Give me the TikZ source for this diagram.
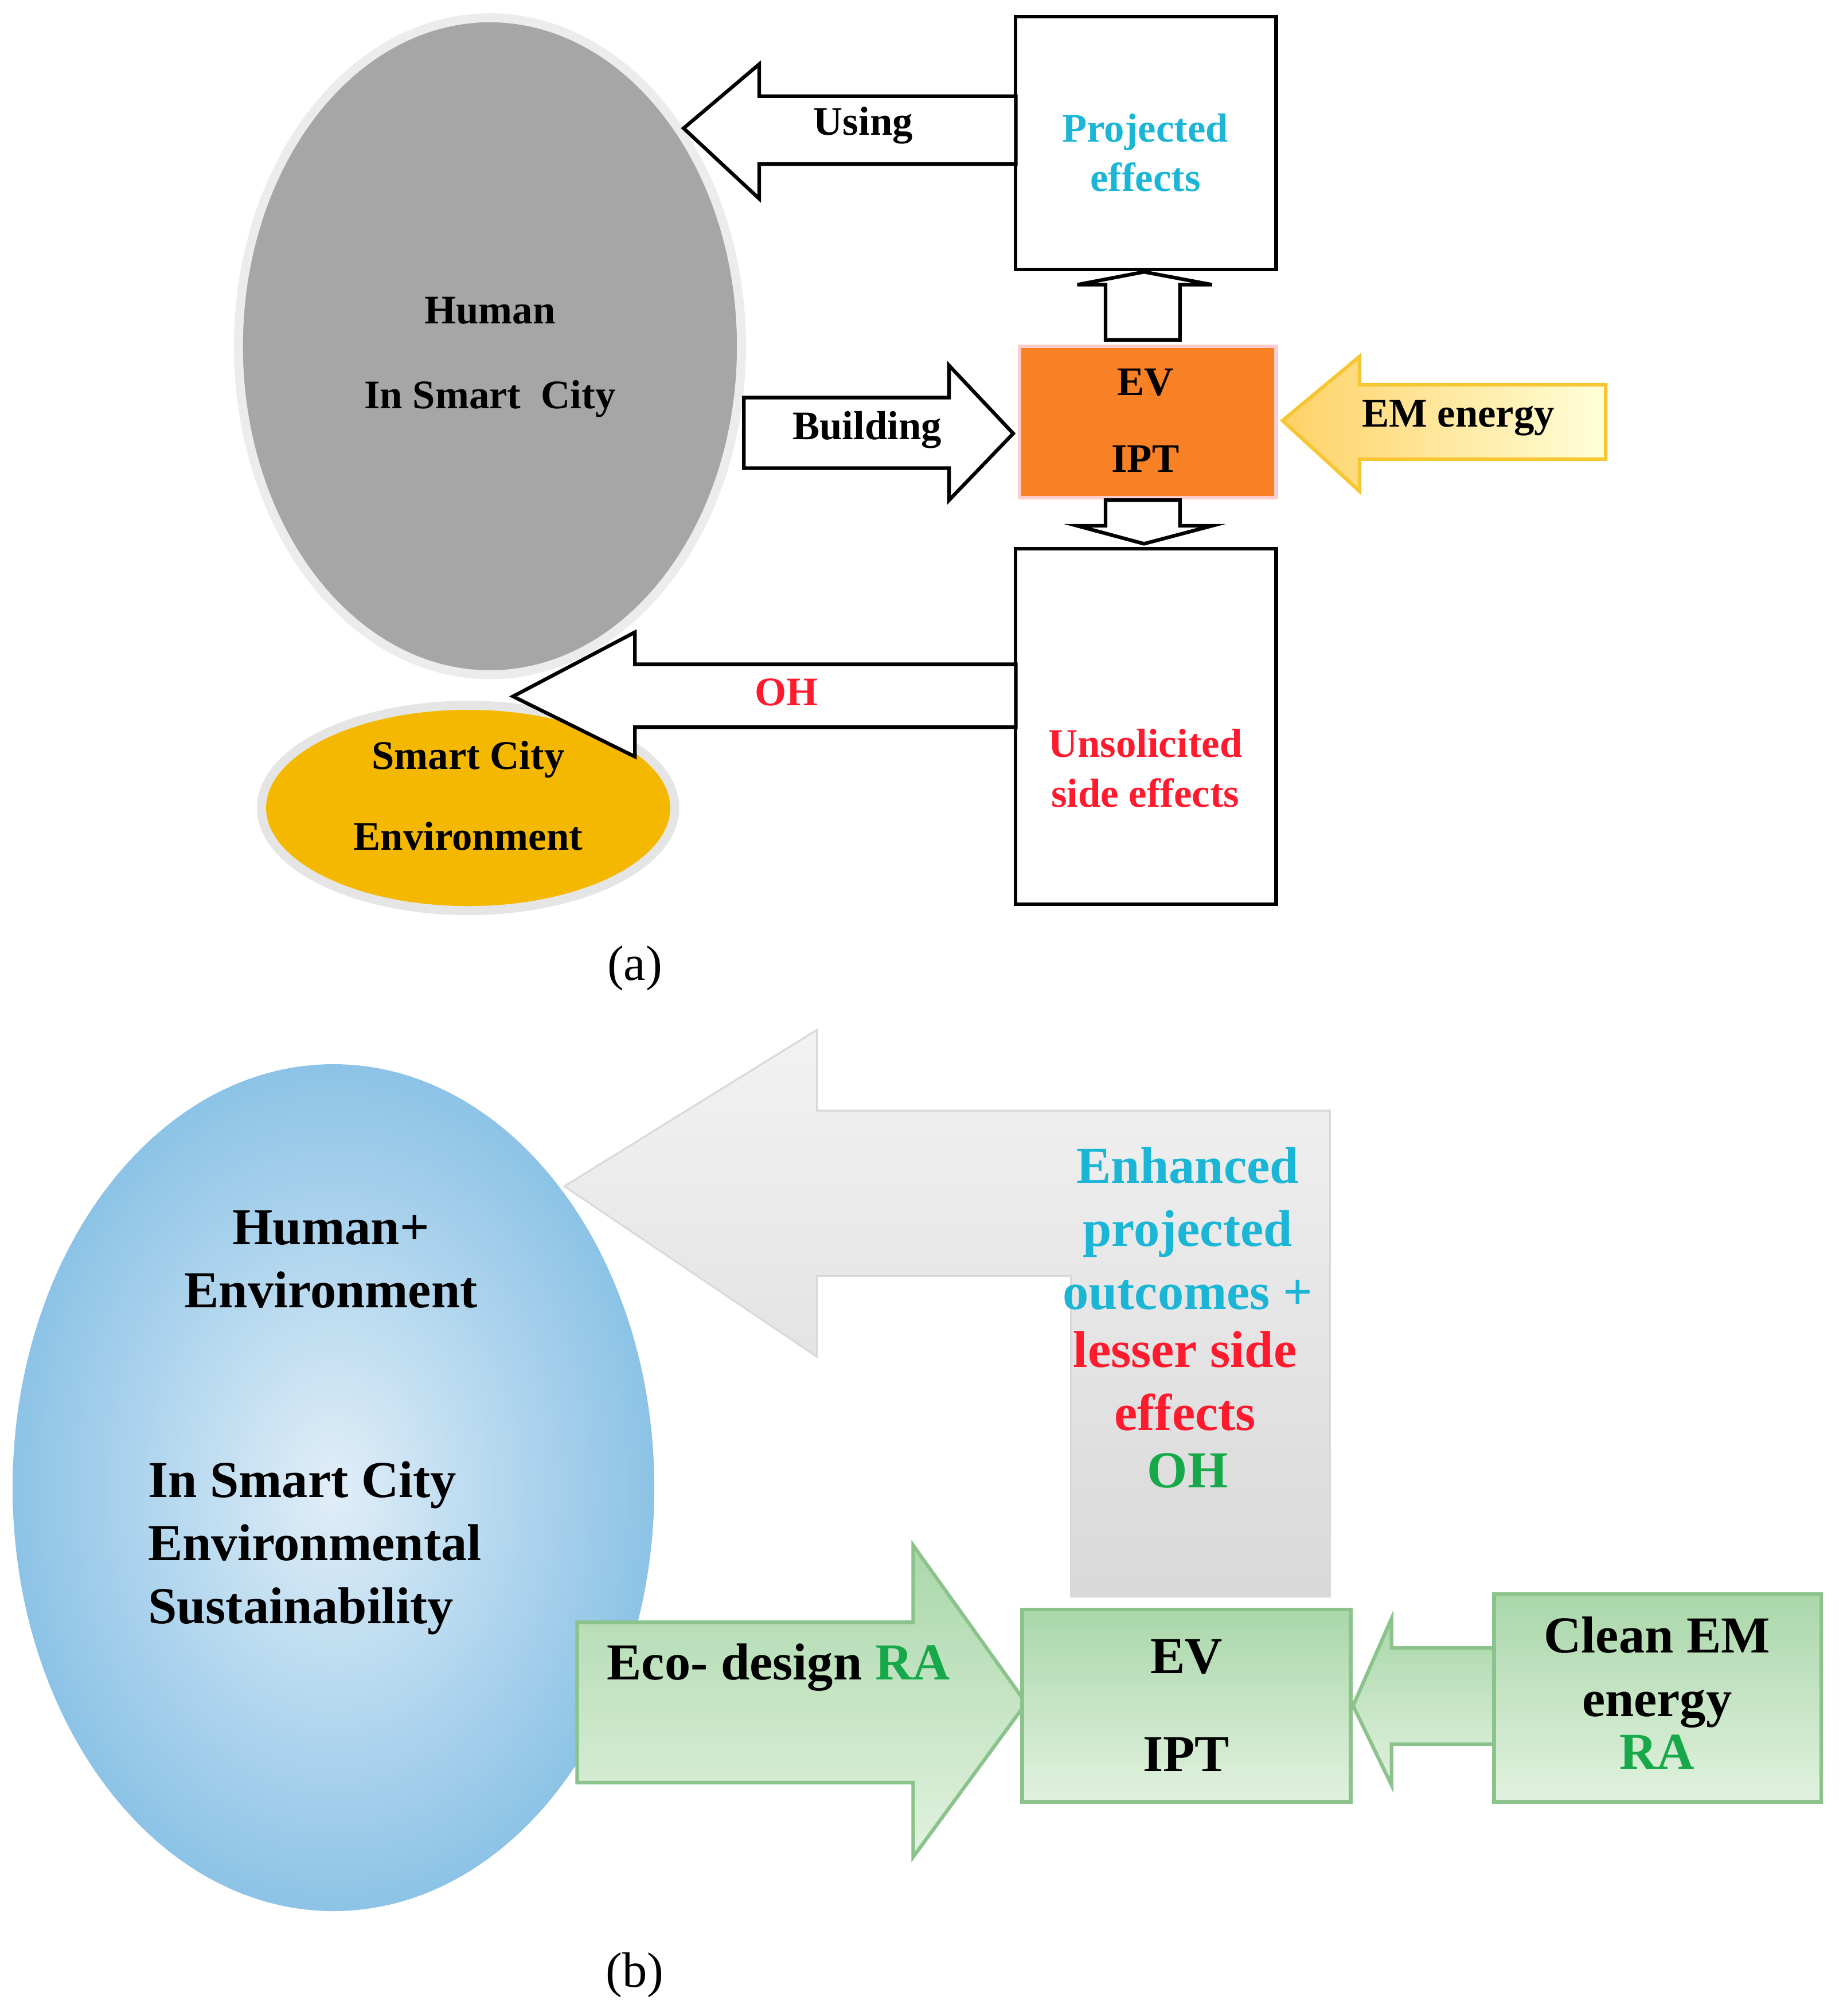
\documentclass[tikz,border=0pt]{standalone}
\usepackage{fontspec}
\setmainfont{Liberation Serif}
\usetikzlibrary{positioning,shapes.geometric}
\definecolor{projcol}{HTML}{1BB5D6}
\definecolor{sidecol}{HTML}{FF1A2E}
\definecolor{racol}{HTML}{17A84A}
\definecolor{evcol}{HTML}{F88025}
\definecolor{envcol}{HTML}{F5B800}
\definecolor{skyedge}{RGB}{140,195,230}
\definecolor{skymid}{RGB}{225,238,248}
\definecolor{leafdark}{RGB}{170,215,170}
\definecolor{leaflight}{RGB}{225,242,222}
\definecolor{leafline}{RGB}{140,195,140}
\tikzset{
    lbl/.style={font=\bfseries\fontsize{9}{11}\selectfont, align=center},
    big lbl/.style={font=\bfseries\fontsize{11.5}{14}\selectfont, align=center},
    white arrow/.style={draw, fill=white, thick},
    plain box/.style={draw, thick, fill=white},
    green box/.style={draw=leafline, thick, top color=leafdark, bottom color=leaflight},
}
\begin{document}
\begin{tikzpicture}[x=0.01cm,y=-0.01cm]
    \useasboundingbox (0,0) rectangle (1440,1572);
    % (a)
    \node[draw=gray!15, line width=2pt, ellipse, fill=gray!70, minimum width=3.92cm, minimum height=5.12cm] (human) at (382,270) {};
    \node[lbl] at (382,242) {Human};
    \node[lbl] at (382,311) {In Smart~ City};
    \node[draw=gray!20, line width=2pt, ellipse, fill=envcol, minimum width=3.22cm, minimum height=1.6cm] (env) at (365,630) {};
    \node[lbl] at (365,592) {Smart City};
    \node[lbl] at (365,652) {Environment};
    \node[plain box, minimum width=2.03cm, minimum height=1.97cm] (proj) at (893.5,111.5) {};
    \node[lbl, text=projcol] at (893,119) {Projected\\effects};
    \node[draw=red!20, thick, fill=evcol, minimum width=2cm, minimum height=1.18cm] (ev) at (895,329) {};
    \node[lbl] at (893,298) {EV};
    \node[lbl] at (893,358) {IPT};
    \node[plain box, minimum width=2.03cm, minimum height=2.77cm] (side) at (893.5,566.5) {};
    \node[lbl, text=sidecol] at (893,599) {Unsolicited\\side effects};
    \draw[white arrow] (533,100) -- (592,50) -- (592,75) -- (792,75) -- (792,128) -- (592,128) -- (592,155) -- cycle;
    \node[lbl] at (673,98) {Using};
    \draw[white arrow] (580,310) -- (740,310) -- (740,285) -- (790,338) -- (740,390) -- (740,365) -- (580,365) -- cycle;
    \node[lbl] at (676,335) {Building};
    \draw[white arrow] (892,212) -- (945,222) -- (920,222) -- (920,265) -- (862,265) -- (862,222) -- (840,222) -- cycle;
    \draw[white arrow] (862,390) -- (920,390) -- (920,410) -- (945,410) -- (892,424) -- (840,410) -- (862,410) -- cycle;
    \draw[draw=envcol!80, thick, left color=yellow!40!orange!60, right color=yellow!15] (1000,328) -- (1060,278) -- (1060,300) -- (1252,300) -- (1252,358) -- (1060,358) -- (1060,383) -- cycle;
    \node[lbl] at (1137,326) {EM energy};
    \draw[white arrow] (400,543) -- (495,493) -- (495,518) -- (792,518) -- (792,567) -- (495,567) -- (495,590) -- cycle;
    \node[lbl, text=sidecol] at (613,540) {OH};
    \node[font=\fontsize{11}{13}\selectfont] at (495,755) {(a)};
    % (b)
    \node[draw=none, ellipse, inner color=skymid, outer color=skyedge, minimum width=5cm, minimum height=6.6cm] (both) at (260,1160) {};
    \node[big lbl] at (258,982) {Human+\\Environment};
    \node[big lbl, align=left, anchor=west] at (103,1207) {In Smart City\\Environmental\\Sustainability};
    \draw[draw=gray!30, top color=gray!10, bottom color=gray!30] (440,925) -- (637,803) -- (637,866) -- (1037,866) -- (1037,1245) -- (835,1245) -- (835,995) -- (637,995) -- (637,1058) -- cycle;
    \node[big lbl, text=projcol] at (926,958) {Enhanced\\projected\\outcomes +};
    \node[big lbl, text=sidecol] at (924,1077) {lesser side\\effects};
    \node[big lbl, text=racol] at (926,1147) {OH};
    \draw[draw=leafline, thick, top color=leafdark, bottom color=leaflight] (450,1265) -- (712,1265) -- (712,1205) -- (800,1328) -- (712,1448) -- (712,1390) -- (450,1390) -- cycle;
    \node[big lbl] at (607,1300) {Eco- design \textcolor{racol}{RA}};
    \node[green box, minimum width=2.56cm, minimum height=1.5cm] (evb) at (925,1330) {};
    \node[big lbl] at (925,1292) {EV};
    \node[big lbl] at (925,1368) {IPT};
    \draw[draw=leafline, thick, top color=leafdark, bottom color=leaflight] (1055,1330) -- (1085,1262) -- (1085,1285) -- (1165,1285) -- (1165,1360) -- (1085,1360) -- (1085,1392) -- cycle;
    \node[green box, minimum width=2.55cm, minimum height=1.62cm] (clean) at (1292.5,1324) {};
    \node[big lbl] at (1292,1304) {Clean EM\\energy};
    \node[big lbl, text=racol] at (1292,1366) {RA};
    \node[font=\fontsize{11}{13}\selectfont] at (495,1540) {(b)};
\end{tikzpicture}
\end{document}
